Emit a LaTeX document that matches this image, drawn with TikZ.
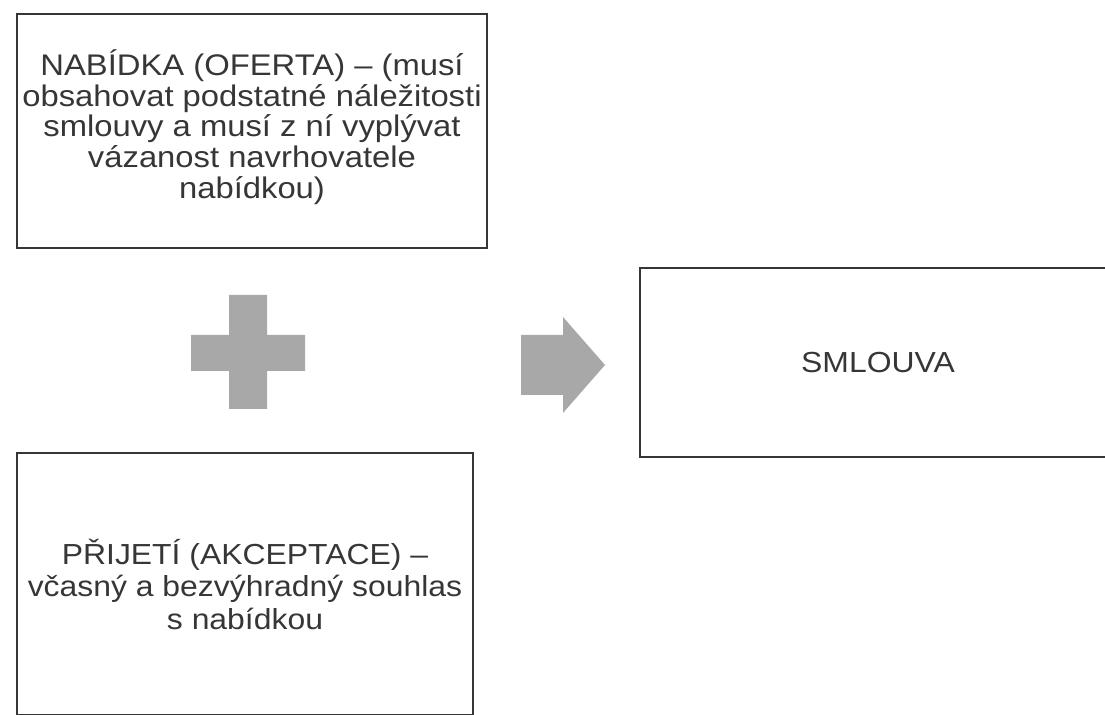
\documentclass[tikz,border=0pt]{standalone}
\usepackage{fontspec}
\setmainfont[FakeStretch=1.1]{Liberation Sans}
\usetikzlibrary{positioning}
\definecolor{inkgray}{HTML}{363636}
\definecolor{signgray}{HTML}{A8A8A8}
\tikzset{
	pojem/.style={draw=inkgray, line width=1.1pt, text=inkgray, align=center,
		font=\fontsize{14.5}{16.25}\selectfont, inner sep=0pt},
	popis/.style={text=inkgray, align=center, inner sep=0pt},
	znak/.style={fill=signgray, draw=none},
}
\begin{document}
\begin{tikzpicture}[x=0.5pt,y=-0.5pt]
	\useasboundingbox (0,0) rectangle (1105,715);
	\node [pojem, minimum width=235pt, minimum height=117pt] (nabidka) at (252,131) {};
	\node [popis, font=\fontsize{14.9}{15.3}\selectfont] (nabidkatext) at ([yshift=2pt]nabidka.center)
		{NABÍDKA (OFERTA) – (musí\\obsahovat podstatné náležitosti\\smlouvy a musí z ní vyplývat\\vázanost navrhovatele\\nabídkou)};
	\node [pojem, minimum width=228pt, minimum height=131pt, below=101.5pt of nabidka.south west, anchor=north west] (prijeti)
		{PŘIJETÍ (AKCEPTACE) –\\včasný a bezvýhradný souhlas\\s nabídkou};
	\node [pojem, minimum width=238pt, minimum height=94.5pt] (smlouva) at (878,362.5) {SMLOUVA};
	
	% plus
	\fill [znak] (229,295) rectangle (267,409) (191,335) rectangle (305,371);
	% sipka
	\fill [znak] (521,335) -- (563,335) -- (563,317) -- (605,365) -- (563,413) -- (563,395) -- (521,395) -- cycle;
\end{tikzpicture}
\end{document}
